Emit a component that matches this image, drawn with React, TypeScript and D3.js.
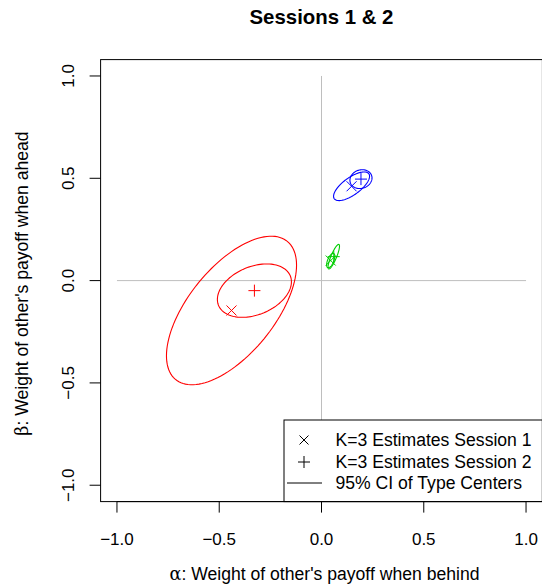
import React from "react";
import * as d3 from "d3";

// ---- data ----
const typeColors = ["#FF0000", "#0000FF", "#00CD00"];
const session1X = [-0.44, 0.147, 0.045];
const session1Y = [-0.146, 0.461, 0.098];
const session2X = [-0.328, 0.193, 0.06];
const session2Y = [-0.049, 0.496, 0.117];
// 95% CI ellipses: half-extent in x, half-extent in y, correlation
const ci1HalfX = [0.318, 0.088, 0.02];
const ci1HalfY = [0.363, 0.07, 0.035];
const ci1Rho = [0.61, 0.7, 0.6];
const ci2HalfX = [0.181, 0.054, 0.028];
const ci2HalfY = [0.1305, 0.046, 0.06];
const ci2Rho = [0.33, 0.12, 0.85];
const tickValues = [-1.0, -0.5, 0.0, 0.5, 1.0];
const legendLabels = ["K=3 Estimates Session 1", "K=3 Estimates Session 2", "95% CI of Type Centers"];

const W = 542;
const H = 588;
const FONT = "'Liberation Sans', Arial, Helvetica, sans-serif";
const SERIF = "'DejaVu Serif', 'Liberation Serif', serif";

const x = d3.scaleLinear().domain([-1.08, 1.08]).range([100.6, 542.4]);
const y = d3.scaleLinear().domain([-1.08, 1.08]).range([501.6, 59.6]);

function ellipsePath(cx: number, cy: number, hx: number, hy: number, rho: number) {
  const n = 120;
  const pts: [number, number][] = [];
  const s = Math.sqrt(1 - rho * rho);
  for (let i = 0; i <= n; i++) {
    const t = (i / n) * 2 * Math.PI;
    const dx = cx + hx * Math.cos(t);
    const dy = cy + hy * (rho * Math.cos(t) + s * Math.sin(t));
    pts.push([x(dx), y(dy)]);
  }
  return d3.line()(pts) + "Z";
}

const fmt = (v: number) => (v < 0 ? "\u2212" + Math.abs(v).toFixed(1) : v.toFixed(1));

function Cross({ cx, cy, r, color }: { cx: number; cy: number; r: number; color: string }) {
  return (
    <g stroke={color} strokeWidth={1}>
      <line x1={cx - r} y1={cy - r} x2={cx + r} y2={cy + r} />
      <line x1={cx - r} y1={cy + r} x2={cx + r} y2={cy - r} />
    </g>
  );
}
function Plus({ cx, cy, r, color }: { cx: number; cy: number; r: number; color: string }) {
  return (
    <g stroke={color} strokeWidth={1}>
      <line x1={cx - r} y1={cy} x2={cx + r} y2={cy} />
      <line x1={cx} y1={cy - r} x2={cx} y2={cy + r} />
    </g>
  );
}

export default function App() {
  const [x0, x1] = x.range();
  const [yb, yt] = y.range();
  const legX = 284;
  const legY = 420;
  const legRows = [440, 462, 483];
  return (
    <svg
      width={W}
      height={H}
      style={{ position: "absolute", left: 0, top: 0, background: "#fff" }}
      fontFamily={FONT}
    >
      <rect x={0} y={0} width={W} height={H} fill="#fff" />
      {/* reference lines */}
      <line x1={x(-1)} y1={y(0)} x2={x(1)} y2={y(0)} stroke="#BEBEBE" strokeWidth={1} />
      <line x1={x(0)} y1={y(-1)} x2={x(0)} y2={y(1)} stroke="#BEBEBE" strokeWidth={1} />

      {/* ellipses */}
      {typeColors.map((c, i) => (
        <g key={"e" + i} fill="none" stroke={c} strokeWidth={1.1}>
          <path d={ellipsePath(session1X[i], session1Y[i], ci1HalfX[i], ci1HalfY[i], ci1Rho[i])} />
          <path d={ellipsePath(session2X[i], session2Y[i], ci2HalfX[i], ci2HalfY[i], ci2Rho[i])} />
        </g>
      ))}
      {/* estimates */}
      {typeColors.map((c, i) => (
        <g key={"p" + i}>
          <Cross cx={x(session1X[i])} cy={y(session1Y[i])} r={5} color={c} />
          <Plus cx={x(session2X[i])} cy={y(session2Y[i])} r={6} color={c} />
        </g>
      ))}

      {/* legend */}
      <rect x={legX} y={legY} width={x1 - legX} height={yb - legY} fill="#fff" stroke="#000" strokeWidth={1} />
      <Cross cx={304} cy={legRows[0]} r={4.5} color="#000" />
      <Plus cx={304} cy={legRows[1]} r={6} color="#000" />
      <line x1={287} y1={legRows[2]} x2={322} y2={legRows[2]} stroke="#000" strokeWidth={1} />
      {legendLabels.map((l, i) => (
        <text key={l} x={335.5} y={legRows[i] + 6} fontSize={17.6} fill="#000">
          {l}
        </text>
      ))}

      {/* plot box */}
      <rect x={x0} y={yt} width={x1 - x0} height={yb - yt} fill="none" stroke="#000" strokeWidth={1} />

      {/* x axis */}
      <line x1={x(-1)} y1={yb} x2={x(1)} y2={yb} stroke="#000" />
      {tickValues.map((v) => (
        <g key={"xt" + v}>
          <line x1={x(v)} y1={yb} x2={x(v)} y2={yb + 11} stroke="#000" />
          <text x={x(v)} y={545} fontSize={17} textAnchor="middle">
            {fmt(v)}
          </text>
        </g>
      ))}
      {/* y axis */}
      {tickValues.map((v) => (
        <g key={"yt" + v}>
          <line x1={x0 - 11} y1={y(v)} x2={x0} y2={y(v)} stroke="#000" />
          <text transform={`translate(74,${y(v)}) rotate(-90)`} fontSize={17} textAnchor="middle">
            {fmt(v)}
          </text>
        </g>
      ))}

      {/* title */}
      <text x={(x0 + x1) / 2} y={24} fontSize={20.4} fontWeight="bold" textAnchor="middle">
        Sessions 1 &amp; 2
      </text>
      {/* axis labels */}
      <text x={(x0 + x1) / 2 + 3} y={580} fontSize={17.6} textAnchor="middle">
        <tspan fontFamily={SERIF}>α</tspan>: Weight of other's payoff when behind
      </text>
      <text transform={`translate(28,${(yb + yt) / 2 + 3}) rotate(-90)`} fontSize={17.6} textAnchor="middle">
        <tspan fontFamily={SERIF}>β</tspan>: Weight of other's payoff when ahead
      </text>
    </svg>
  );
}
